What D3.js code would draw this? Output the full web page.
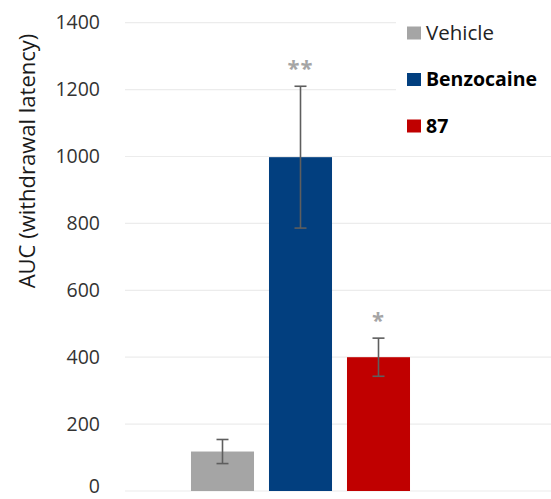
<!DOCTYPE html>
<html>
<head>
<meta charset="utf-8">
<script src="https://cdn.jsdelivr.net/npm/d3@7"></script>
<style>
  body { margin: 0; background: #fff; }
  svg { display: block; font-family: "Open Sans", sans-serif; }
</style>
</head>
<body>
<svg id="chart" width="551" height="499"></svg>
<script>
const groups = ['Vehicle', 'Benzocaine', '87'];
const means = [118, 998, 400];
const errors = [36, 212, 57];
const stars = ['', '**', '*'];
const colors = ['#a5a5a5', '#023f7f', '#c00000'];
const boldLegend = [false, true, true];
const yTicks = [0, 200, 400, 600, 800, 1000, 1200, 1400];

const svg = d3.select('#chart');

const y = d3.scaleLinear()
    .domain([0, 1400])
    .range([491, 22.7]);

const x = d3.scaleBand()
    .domain(groups)
    .range([183.5, 417.5])
    .paddingInner(0.192)
    .paddingOuter(0.096);

// grid lines
svg.append('g')
    .selectAll('line')
    .data(yTicks)
    .join('line')
    .attr('x1', 125)
    .attr('x2', 551)
    .attr('y1', d => y(d))
    .attr('y2', d => y(d))
    .attr('stroke', '#ececec')
    .attr('stroke-width', 1.2);

// y axis labels
const yAxis = svg.append('g')
    .attr('transform', 'translate(100,0)')
    .call(d3.axisLeft(y).tickValues(yTicks).tickSize(0).tickPadding(0).tickFormat(d3.format('d')));
yAxis.select('.domain').remove();
yAxis.selectAll('text')
    .attr('font-family', '"Open Sans", sans-serif')
    .attr('font-size', 19.5)
    .attr('fill', '#333')
    .attr('dy', d => d === 0 ? '0.1em' : '0.32em');

svg.append('text')
    .attr('transform', 'translate(35,161) rotate(-90)')
    .attr('text-anchor', 'middle')
    .attr('font-size', 22)
    .attr('fill', '#1a1a1a')
    .text('AUC (withdrawal latency)');

// bars
svg.append('g')
    .selectAll('rect')
    .data(groups)
    .join('rect')
    .attr('x', d => x(d))
    .attr('width', x.bandwidth())
    .attr('y', (d, i) => y(means[i]))
    .attr('height', (d, i) => y(0) - y(means[i]))
    .attr('fill', (d, i) => colors[i]);

// error bars
const eb = svg.append('g')
    .attr('stroke', '#5e5e5e')
    .attr('stroke-width', 1.6);
groups.forEach((g, i) => {
    const cx = x(g) + x.bandwidth() / 2;
    const top = y(means[i] + errors[i]);
    const bot = y(means[i] - errors[i]);
    eb.append('line').attr('x1', cx).attr('x2', cx).attr('y1', top).attr('y2', bot);
    eb.append('line').attr('x1', cx - 6).attr('x2', cx + 6).attr('y1', top).attr('y2', top);
    eb.append('line').attr('x1', cx - 6).attr('x2', cx + 6).attr('y1', bot).attr('y2', bot);
});

// significance stars
svg.append('g')
    .selectAll('text')
    .data(groups)
    .join('text')
    .attr('x', d => x(d) + x.bandwidth() / 2)
    .attr('y', (d, i) => y(means[i] + errors[i]) - 10)
    .attr('text-anchor', 'middle')
    .attr('font-size', 22)
    .attr('font-weight', 'bold')
    .attr('fill', '#a5a5a5')
    .attr('letter-spacing', 1)
    .text((d, i) => stars[i]);

// legend
svg.append('rect')
    .attr('x', 396).attr('y', 0)
    .attr('width', 155).attr('height', 145)
    .attr('fill', '#fff');

const legend = svg.append('g')
    .selectAll('g')
    .data(groups)
    .join('g')
    .attr('transform', (d, i) => `translate(407,${33 + i * 46.5})`);

legend.append('rect')
    .attr('x', 0).attr('y', -6.5)
    .attr('width', 14).attr('height', 13)
    .attr('fill', (d, i) => colors[i]);

legend.append('text')
    .attr('x', 19)
    .attr('dy', '0.35em')
    .attr('font-size', (d, i) => boldLegend[i] ? 19.5 : 20.5)
    .attr('font-weight', (d, i) => boldLegend[i] ? 'bold' : 'normal')
    .attr('fill', (d, i) => boldLegend[i] ? '#000' : '#222')
    .text(d => d);
</script>
</body>
</html>
